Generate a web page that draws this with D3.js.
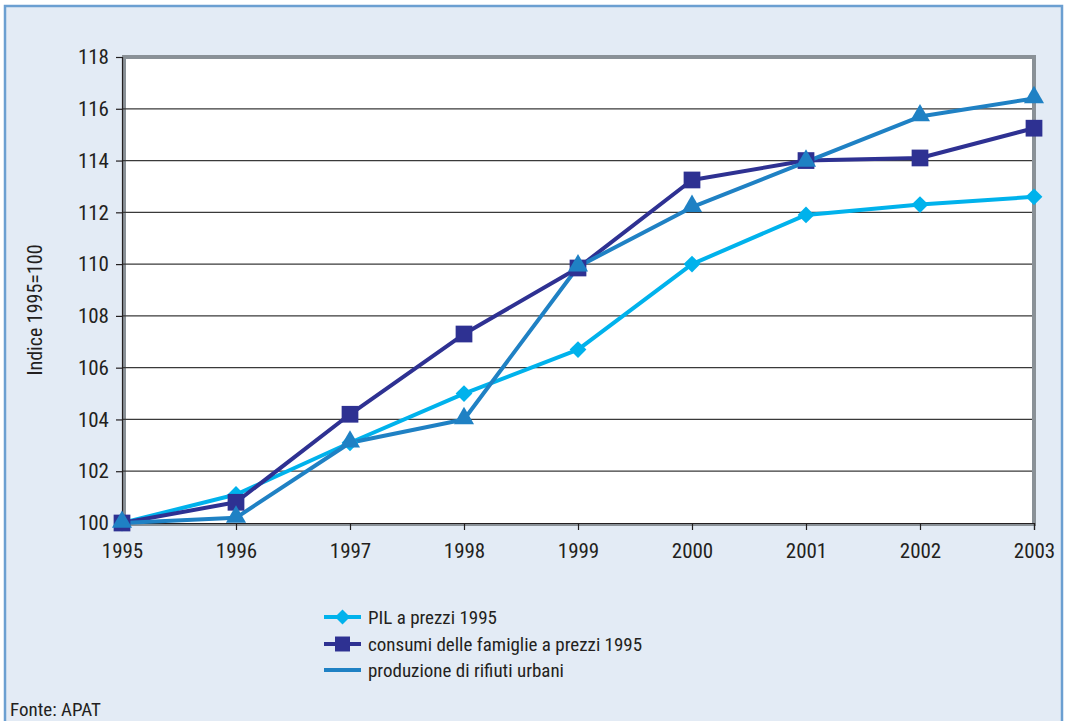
<!DOCTYPE html>
<html>
<head>
<meta charset="utf-8">
<script src="https://cdn.jsdelivr.net/npm/d3@7"></script>
<style>
  html, body { margin: 0; padding: 0; background: #ffffff; }
  svg { display: block; }
  text { font-family: "Liberation Sans Narrow", "Arial Narrow", "Roboto Condensed", sans-serif; fill: #231f20; }
</style>
</head>
<body>
<svg id="chart" width="1065" height="721"></svg>
<script>
const years = [1995, 1996, 1997, 1998, 1999, 2000, 2001, 2002, 2003];
const pil = [100, 101.1, 103.1, 105.0, 106.7, 110.0, 111.9, 112.3, 112.6];
const consumi = [100, 100.8, 104.2, 107.3, 109.85, 113.25, 114.0, 114.1, 115.25];
const rifiuti = [100, 100.2, 103.1, 104.0, 109.9, 112.2, 113.95, 115.7, 116.4];
const yTicks = [100, 102, 104, 106, 108, 110, 112, 114, 116, 118];
const seriesNames = ["PIL a prezzi 1995", "consumi delle famiglie a prezzi 1995", "produzione di rifiuti urbani"];

const svg = d3.select("#chart");
// background panel
svg.append("rect").attr("x", 5).attr("y", 6).attr("width", 1057).attr("height", 720)
  .attr("fill", "#e3ebf5").attr("stroke", "#6b9fd1").attr("stroke-width", 2.5);

const m = {left: 122, top: 57, right: 1034, bottom: 523};
const x = d3.scaleLinear().domain([1995, 2003]).range([m.left, m.right]);
const y = d3.scaleLinear().domain([100, 118]).range([m.bottom, m.top]);

// plot area
svg.append("rect").attr("x", m.left).attr("y", m.top).attr("width", m.right - m.left).attr("height", m.bottom - m.top)
  .attr("fill", "#ffffff");
// gray frame
svg.append("path")
  .attr("d", `M${m.left + 2},${m.bottom} L${m.left + 2},${m.top} L${m.right},${m.top} L${m.right},${m.bottom}`)
  .attr("fill", "none").attr("stroke", "#8a9197").attr("stroke-width", 4);
svg.append("line").attr("x1", m.left).attr("x2", m.right + 2).attr("y1", m.bottom + 1.5).attr("y2", m.bottom + 1.5)
  .attr("stroke", "#8a9197").attr("stroke-width", 3);

// gridlines
svg.append("g").selectAll("line").data(yTicks.filter(d => d !== 100 && d !== 118)).join("line")
  .attr("x1", m.left).attr("x2", m.right - 2)
  .attr("y1", d => y(d)).attr("y2", d => y(d))
  .attr("stroke", "#3a3a3a").attr("stroke-width", 1.2);

// axes
const yAxis = d3.axisLeft(y).tickValues(yTicks).tickSize(6).tickPadding(7).tickFormat(d3.format("d"));
const gy = svg.append("g").attr("transform", `translate(${m.left},0)`).call(yAxis);
gy.select(".domain").attr("stroke", "#231f20").attr("stroke-width", 1.2);
gy.selectAll(".tick line").attr("stroke", "#231f20").attr("stroke-width", 1.2);
gy.selectAll("text").style("font-size", "21px").attr("fill", "#231f20");

const xAxis = d3.axisBottom(x).tickValues(years).tickSize(7).tickPadding(13).tickFormat(d3.format("d"));
const gx = svg.append("g").attr("transform", `translate(0,${m.bottom})`).call(xAxis);
gx.select(".domain").attr("stroke", "#231f20").attr("stroke-width", 1.2);
gx.selectAll(".tick line").attr("stroke", "#231f20").attr("stroke-width", 1.2);
gx.selectAll("text").style("font-size", "21px").attr("fill", "#231f20");

// y label
svg.append("text").attr("transform", "translate(42,310) rotate(-90)")
  .attr("text-anchor", "middle").style("font-size", "20px").text("Indice 1995=100");

const series = [
  {name: seriesNames[0], values: pil, color: "#00b2ec", symbol: d3.symbolDiamond2, size: 180},
  {name: seriesNames[1], values: consumi, color: "#2e3192", symbol: d3.symbolSquare, size: 280},
  {name: seriesNames[2], values: rifiuti, color: "#1f81c4", symbol: d3.symbolTriangle, size: 175}
];

const line = d3.line().x((d, i) => x(years[i])).y(d => y(d));
series.forEach(s => {
  svg.append("path").datum(s.values).attr("d", line)
    .attr("fill", "none").attr("stroke", s.color).attr("stroke-width", 4).attr("stroke-linejoin", "round");
});
series.forEach(s => {
  svg.append("g").selectAll("path").data(s.values).join("path")
    .attr("transform", (d, i) => `translate(${x(years[i])},${y(d) + (s.symbol === d3.symbolTriangle ? -1 : 0)})`)
    .attr("d", d3.symbol().type(s.symbol).size(s.size))
    .attr("fill", s.color);
});

// legend
const legY = [617, 644, 670];
series.forEach((s, i) => {
  const g = svg.append("g").attr("transform", `translate(324,${legY[i]})`);
  g.append("line").attr("x1", 0).attr("x2", 37).attr("y1", 0).attr("y2", 0)
    .attr("stroke", s.color).attr("stroke-width", 4);
  if (i < 2) {
    g.append("path").attr("transform", "translate(18.5,0)")
      .attr("d", d3.symbol().type(s.symbol).size(s.size * 0.8)).attr("fill", s.color);
  }
  g.append("text").attr("x", 44).attr("y", 7).style("font-size", "19px").text(s.name);
});

svg.append("text").attr("x", 10).attr("y", 716).style("font-size", "19px").text("Fonte: APAT");
</script>
</body>
</html>
